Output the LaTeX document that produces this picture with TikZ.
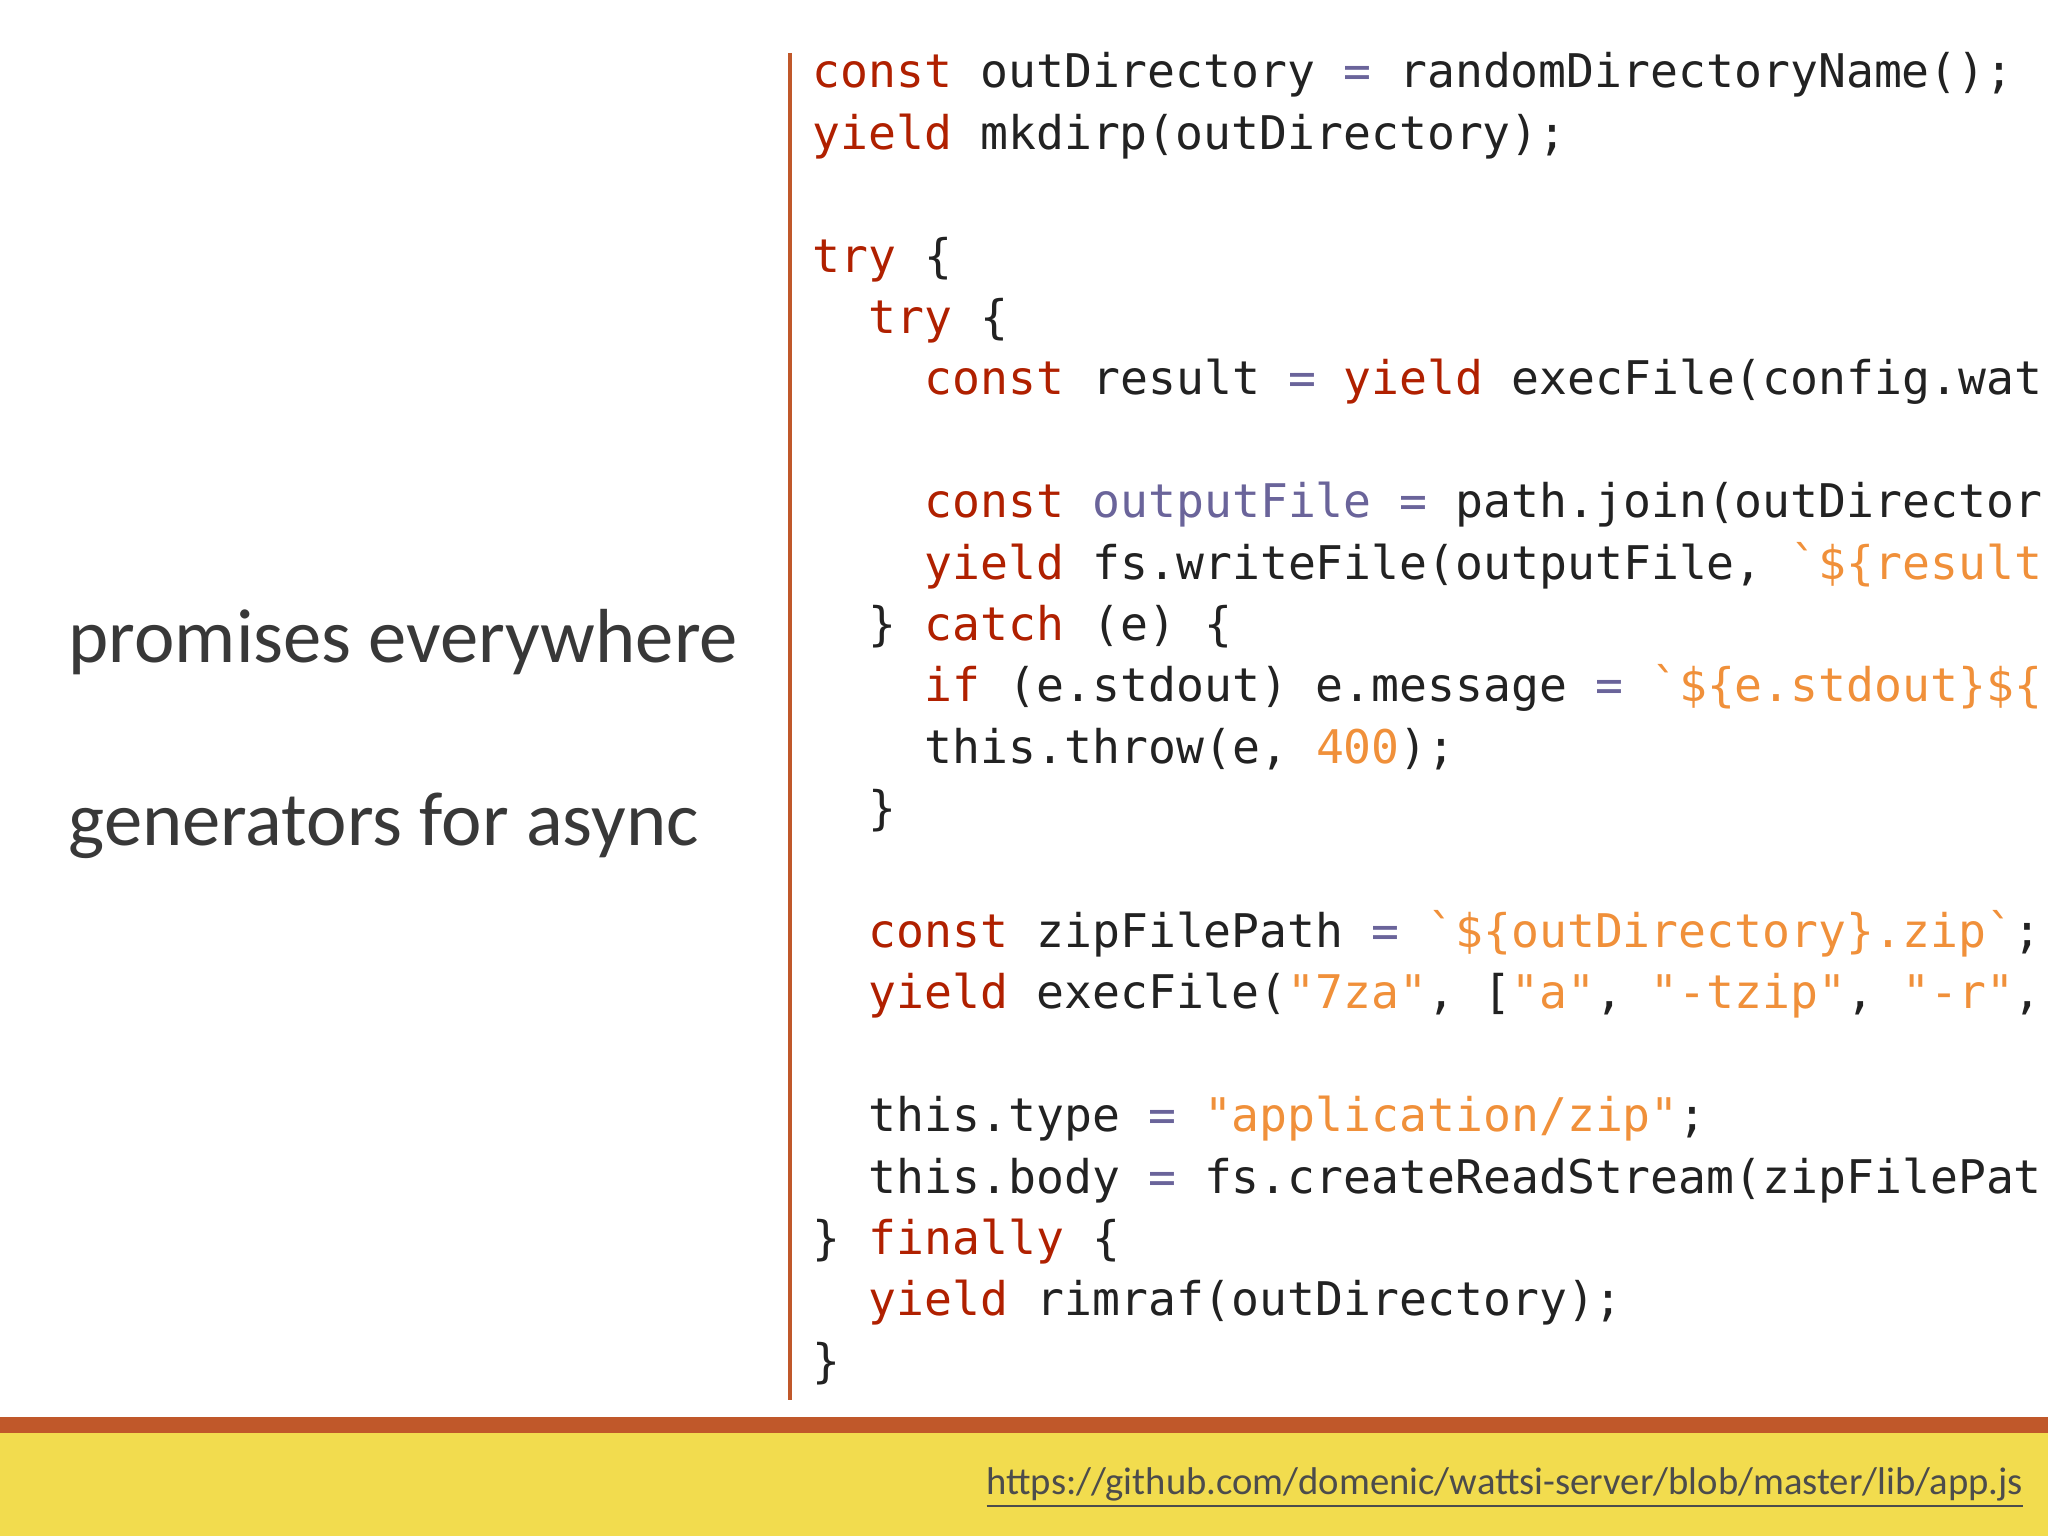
\documentclass[tikz,border=0pt]{standalone}
\usepackage{fontspec}
\setmainfont{Carlito}
\setmonofont{DejaVu Sans Mono}
\definecolor{kw}{HTML}{B02000}
\definecolor{st}{HTML}{F0903A}
\definecolor{pu}{HTML}{6A649A}
\definecolor{tx}{HTML}{222222}
\definecolor{orbar}{HTML}{C0582A}
\definecolor{yel}{HTML}{F2DC4E}
\newcommand{\kw}[1]{\textcolor{kw}{#1}}
\newcommand{\st}[1]{\textcolor{st}{#1}}
\newcommand{\op}[1]{\textcolor{pu}{#1}}
\newcommand{\bt}{\symbol{96}}
\begin{document}
\begin{tikzpicture}[x=1cm,y=1cm,
  code/.style={anchor=west,inner sep=0pt,text=tx,font=\fontsize{13.2}{15}\selectfont\ttfamily,text height=2.2ex,text depth=0.6ex},
  side/.style={anchor=west,inner sep=0pt,text=tx!90,font=\fontsize{21.8}{26}\selectfont}]
\useasboundingbox (0,0) rectangle (20.48,15.36);
\clip (0,0) rectangle (20.48,15.36);
\fill[yel] (0,0) rectangle (20.48,1.03);
\fill[orbar] (0,1.03) rectangle (20.48,1.19);
\coordinate (vt) at (7.90,14.83);
\coordinate (vb) at (7.90,1.36);
\draw[orbar,line width=1.4pt] (vt) -- (vb);
\node[side] (p1) at (0.68,8.94) {promises everywhere};
\node[side] (p2) at (0.68,7.10) {generators for async};
\node[anchor=east,inner sep=0pt,text=black!70,font=\fontsize{11}{13}\selectfont] (url) at (20.24,0.48) {\underline{https://github.com/domenic/wattsi-server/blob/master/lib/app.js}};
\def\L#1#2#3{\node[code] (l#1) at ({8.12+#2*0.2807},{15.36-0.744-#1*0.614}) {#3};}
\L{0}{0}{\kw{const} outDirectory \op{=} randomDirectoryName();}
\L{1}{0}{\kw{yield} mkdirp(outDirectory);}
\L{3}{0}{\kw{try} \{}
\L{4}{2}{\kw{try} \{}
\L{5}{4}{\kw{const} result \op{=} \kw{yield} execFile(config.wat}
\L{7}{4}{\kw{const} \op{outputFile} \op{=} path.join(outDirector}
\L{8}{4}{\kw{yield} fs.writeFile(outputFile, \st{\bt\$\{result}}
\L{9}{2}{\} \kw{catch} (e) \{}
\L{10}{4}{\kw{if} (e.stdout) e.message \op{=} \st{\bt\$\{e.stdout\}\$\{}}
\L{11}{4}{this.throw(e, \st{400});}
\L{12}{2}{\}}
\L{14}{2}{\kw{const} zipFilePath \op{=} \st{\bt\$\{outDirectory\}.zip\bt};}
\L{15}{2}{\kw{yield} execFile(\st{"7za"}, [\st{"a"}, \st{"-tzip"}, \st{"-r"},}
\L{17}{2}{this.type \op{=} \st{"application/zip"};}
\L{18}{2}{this.body \op{=} fs.createReadStream(zipFilePat}
\L{19}{0}{\} \kw{finally} \{}
\L{20}{2}{\kw{yield} rimraf(outDirectory);}
\L{21}{0}{\}}
\end{tikzpicture}
\end{document}
